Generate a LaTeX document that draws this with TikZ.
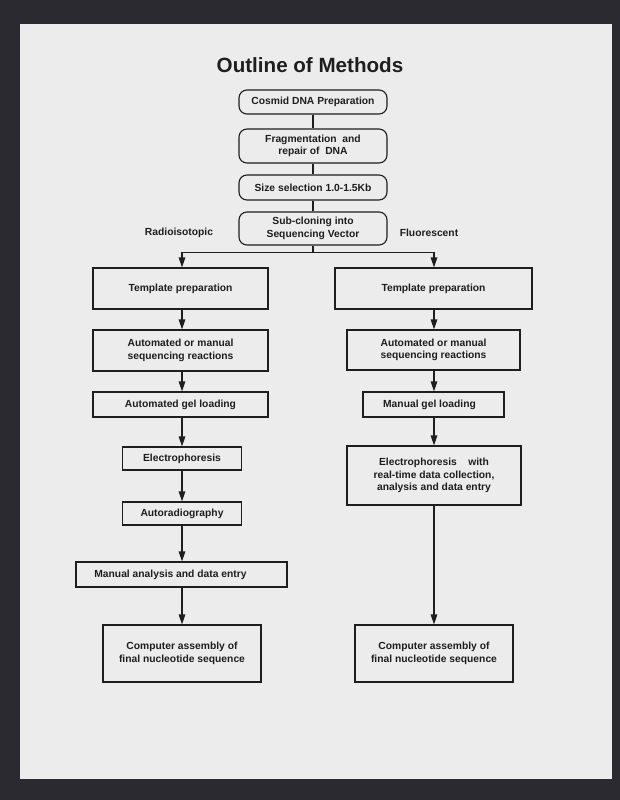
\documentclass[tikz,border=0pt]{standalone}
\usepackage{fontspec}
\setmainfont{Liberation Sans}
\usetikzlibrary{arrows.meta}
\definecolor{bgdark}{HTML}{2A2A30}
\definecolor{paper}{HTML}{ECECEC}
\definecolor{ink}{HTML}{1E1E1E}
\begin{document}
\begin{tikzpicture}[x=1pt,y=-1pt,
  box/.style={draw=ink, line width=1.1pt, inner sep=0pt, align=center, text=ink,
    font=\fontsize{10.3}{12.5}\selectfont\bfseries},
  rbox/.style={box, rounded corners=8pt},
  conn/.style={draw=ink, line width=1.1pt},
  arr/.style={conn, -{Triangle[length=10pt,width=6.5pt]}},
  side/.style={text=ink, font=\fontsize{10.3}{12.5}\selectfont\bfseries}]
\useasboundingbox (0,0) rectangle (620,800);
\fill[bgdark] (0,0) rectangle (620,800);
\fill[paper] (20,24) rectangle (612,779);

\node[text=ink, font=\fontsize{20.6}{24}\selectfont\bfseries] (title) at (310,65) {Outline of Methods};

\node[rbox, minimum width=148pt, minimum height=24pt] (cosmid) at (313,102) {Cosmid DNA Preparation};
\node[rbox, minimum width=148pt, minimum height=34pt] (frag) at (313,146) {Fragmentation\ \ and\\repair of\ \ DNA};
\node[rbox, minimum width=148pt, minimum height=25pt] (size) at (313,187.5) {Size selection 1.0-1.5Kb};
\node[rbox, minimum width=148pt, minimum height=33pt] (sub) at (313,228.5) {Sub-cloning into\\Sequencing Vector};

\node[side] (radio) at (179,233) {Radioisotopic};
\node[side] (fluor) at (429,233) {Fluorescent};

% left column
\node[box, minimum width=175pt, minimum height=41pt] (ltemp) at (180.5,288.5) {Template preparation};
\node[box, minimum width=175pt, minimum height=41pt] (lauto) at (180.5,350.5) {Automated or manual\\sequencing reactions};
\node[box, minimum width=175pt, minimum height=25pt] (lgel) at (180.5,404.5) {Automated gel loading};
\node[box, minimum width=119pt, minimum height=23pt] (lelec) at (182,458.5) {Electrophoresis};
\node[box, minimum width=119pt, minimum height=23pt] (lrad) at (182,513.5) {Autoradiography};
\node[box, minimum width=211pt, minimum height=25pt] (lman) at (181.5,574.5) {Manual analysis and data entry\hspace*{22pt}};
\node[box, minimum width=158pt, minimum height=57pt] (lcomp) at (182,653.5) {Computer assembly of\\final nucleotide sequence};

% right column
\node[box, minimum width=197pt, minimum height=41pt] (rtemp) at (433.5,288.5) {Template preparation};
\node[box, minimum width=173pt, minimum height=40pt] (rauto) at (433.5,350) {Automated or manual\\sequencing reactions};
\node[box, minimum width=141pt, minimum height=25pt] (rgel) at (433.5,404.5) {Manual gel loading\hspace*{8pt}};
\node[box, minimum width=174pt, minimum height=59pt] (relec) at (434,475.5) {Electrophoresis\ \ \ \ with\\real-time data collection,\\analysis and data entry};
\node[box, minimum width=158pt, minimum height=57pt] (rcomp) at (434,653.5) {Computer assembly of\\final nucleotide sequence};

% trunk connectors
\draw[conn] (cosmid) -- (frag);
\draw[conn] (frag) -- (size);
\draw[conn] (size) -- (sub);
\coordinate (split) at (313,252.5);
\draw[conn] (sub.south) -- (split);
\draw[arr] (split) -| (ltemp.north -| 182,0);
\draw[arr] (split) -| (rtemp.north -| 434,0);

% left chain
\draw[arr] (ltemp.south -| 182,0) -- (lauto.north -| 182,0);
\draw[arr] (lauto.south -| 182,0) -- (lgel.north -| 182,0);
\draw[arr] (lgel.south -| 182,0) -- (lelec.north -| 182,0);
\draw[arr] (lelec.south -| 182,0) -- (lrad.north -| 182,0);
\draw[arr] (lrad.south -| 182,0) -- (lman.north -| 182,0);
\draw[arr] (lman.south -| 182,0) -- (lcomp.north -| 182,0);

% right chain
\draw[arr] (rtemp.south -| 434,0) -- (rauto.north -| 434,0);
\draw[arr] (rauto.south -| 434,0) -- (rgel.north -| 434,0);
\draw[arr] (rgel.south -| 434,0) -- (relec.north -| 434,0);
\draw[arr] (relec.south -| 434,0) -- (rcomp.north -| 434,0);
\end{tikzpicture}
\end{document}
